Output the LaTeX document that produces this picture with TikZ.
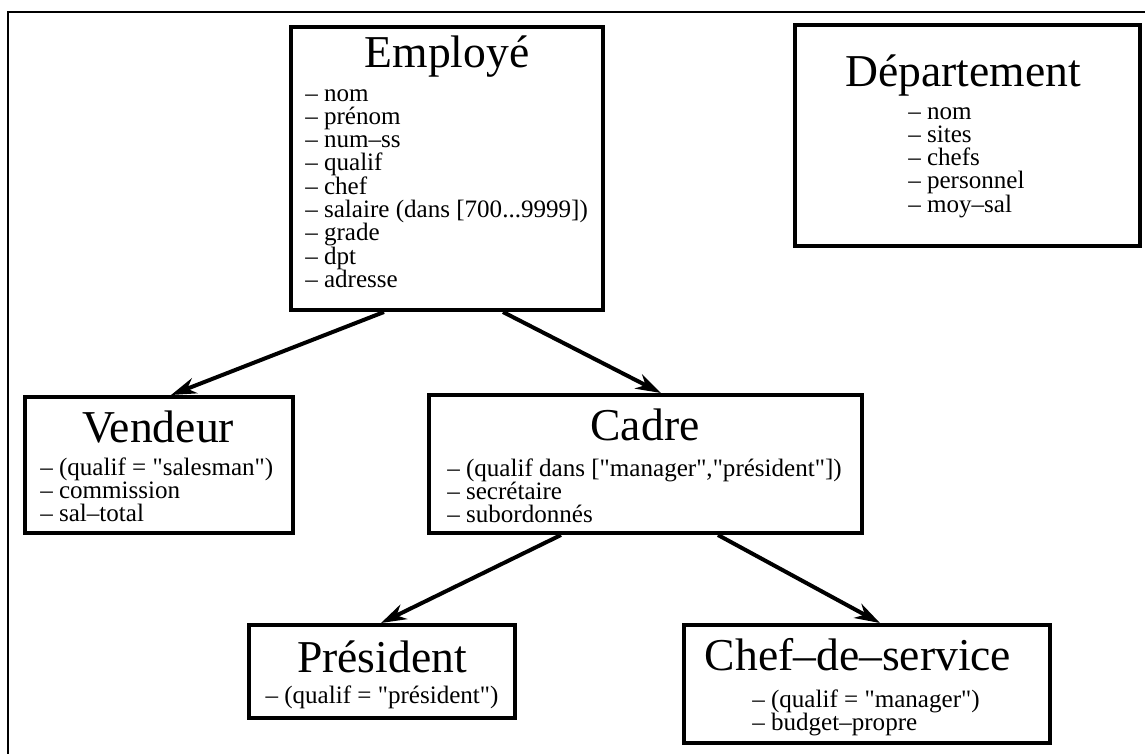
\documentclass[tikz,border=0pt]{standalone}
\usepackage{fontspec}
\setmainfont{Liberation Serif}[Ligatures=TeXOff]
\usetikzlibrary{fit,arrows.meta,calc}
\tikzset{
  box/.style={draw, line width=3pt, inner sep=0pt, fit={#1}},
  title/.style={anchor=base, inner sep=0pt, font=\fontsize{34.2pt}{36pt}\selectfont},
  attr/.style={anchor=base west, inner sep=0pt, font=\fontsize{18.8pt}{20pt}\selectfont},
  attrc/.style={anchor=base, inner sep=0pt, font=\fontsize{18.8pt}{20pt}\selectfont},
  link/.style={line width=3pt, -{Stealth[length=19pt,width=12pt,inset=6pt]}},
  frame/.style={line width=1.5pt}
}
% attribute list: prefix, x, baseline of first line, items
\newcommand\attrlist[4]{%
  \foreach \t [count=\i] in {#4} {\node[attr] (#1-\i) at (#2,{#3+23.3*(\i-1)}) {\t};}}
\begin{document}
\begin{tikzpicture}[x=0.75pt,y=-0.75pt]
\useasboundingbox (0,0) rectangle (1145,754);
\draw[frame] (1145,12) -| (8,754);

% classes
\node[box={(291,27) (603,310)}] (emp) {};
\node[title] (emp-t) at (447,67) {Employé};
\attrlist{emp}{305}{101}{– nom, – prénom, – num–ss, – qualif, – chef,
  {– salaire (dans [700{.}{.}{.}9999])}, – grade, – dpt, – adresse}

\node[box={(795,25) (1140,246)}] (dep) {};
\node[title] (dep-t) at (963,86) {Département};
\attrlist{dep}{908}{119}{– nom, – sites, – chefs, – personnel, – moy–sal}

\node[box={(25,397) (293,533)}] (ven) {};
\node[title] (ven-t) at (158,442) {Vendeur};
\attrlist{ven}{40}{475}{– (qualif = "salesman"), – commission, – sal–total}

\node[box={(429,395) (862,533)}] (cad) {};
\node[title] (cad-t) at (645,440) {Cadre};
\attrlist{cad}{447}{476}{{– (qualif dans ["manager","président"])}, – secrétaire, – subordonnés}

\node[box={(249,625) (515,718)}] (pre) {};
\node[title] (pre-t) at (382,672) {Président};
\node[attrc] (pre-1) at (382,703) {– (qualif = "président")};

\node[box={(684,625) (1050,743)}] (chef) {};
\node[title] (chef-t) at (858,670) {Chef–de–service};
\attrlist{chef}{752}{707}{– (qualif = "manager"), – budget–propre}

% inheritance links
\draw[link] ($(emp.south west)+(95,0)$) -- ($(ven.north west)+(148,0)$);
\draw[link] ($(emp.south west)+(214,0)$) -- ($(cad.north west)+(234,0)$);
\draw[link] ($(cad.south west)+(134,0)$) -- ($(pre.north west)+(134,0)$);
\draw[link] ($(cad.south west)+(291,0)$) -- ($(chef.north west)+(198,0)$);
\end{tikzpicture}
\end{document}
